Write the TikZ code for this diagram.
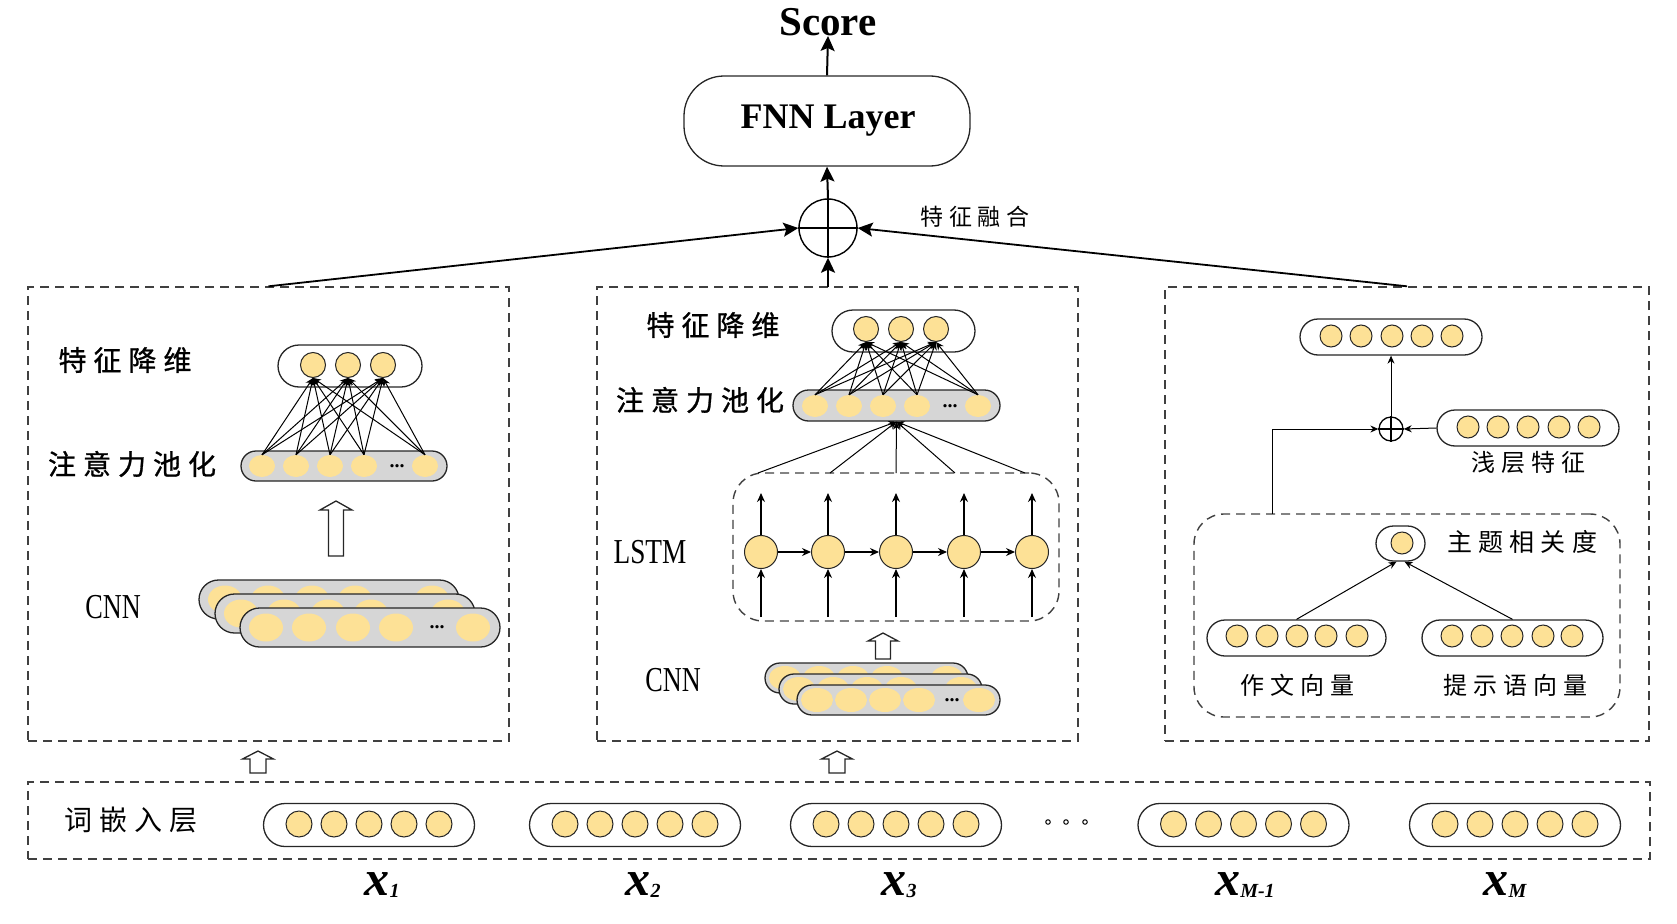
\documentclass[tikz,border=0pt]{standalone}
\usepackage{fontspec}
\setmainfont{Liberation Serif}
\newfontfamily\cjk[LetterSpace=25]{Noto Sans CJK SC}
\newfontfamily\cjkb[LetterSpace=25,FakeBold=1]{Noto Sans CJK SC}
\usetikzlibrary{arrows.meta,shapes.misc,shapes.geometric}
\definecolor{cfill}{HTML}{FDE196}
\definecolor{pgray}{HTML}{D6D6D6}
\definecolor{dgray}{HTML}{404040}
\tikzset{
  box/.style={draw=dgray, line width=1.4pt, dash pattern=on 9pt off 6pt, inner sep=0},
  rbox/.style={box, rounded corners=30pt},
  pill/.style={rounded rectangle, draw=black!85, line width=1.3pt, fill=white, inner sep=0},
  gpill/.style={pill, fill=pgray},
  neu/.style={circle, draw=black!85, line width=1pt, fill=cfill, inner sep=0, minimum size=#1},
  neu/.default=25pt,
  ell/.style={ellipse, fill=cfill, inner sep=0},
  arr/.style={-{Stealth[length=9pt,width=8pt]}, line width=1.2pt},
  sarr/.style={-{Stealth[length=8pt,width=7pt]}, line width=1pt},
  bigarr/.style={-{Stealth[length=15pt,width=14pt,inset=3pt]}, line width=2pt},
  hol/.style={draw=black!85, line width=1.3pt, fill=white, line join=miter},
  lab/.style={inner sep=0},
  cjkbig/.style={lab, font=\cjkb\fontsize{28}{28}\selectfont},
  cjkmid/.style={lab, font=\cjk\fontsize{24}{24}\selectfont},
  dots/.style={lab, font=\bfseries\fontsize{20}{20}\selectfont},
  netlab/.style={lab, font=\fontsize{35}{35}\selectfont},
  xlab/.style={lab, font=\bfseries\itshape\fontsize{50}{50}\selectfont},
}
\newcommand\sublab[1]{\raisebox{-2pt}{\fontsize{20}{20}\selectfont\itshape #1}}
% hollow up arrow: x, tip y, bottom y, head half width, shaft half width, head length
\newcommand\hollowup[6]{%
  \draw[hol] (#1-#5,#3) -- (#1-#5,#2+#6) -- (#1-#4,#2+#6) -- (#1,#2) -- (#1+#4,#2+#6) -- (#1+#5,#2+#6) -- (#1+#5,#3) -- cycle;}
\begin{document}
\begin{tikzpicture}[x=1pt,y=-1pt]
\useasboundingbox (0,0) rectangle (1677,923);

% ---------- top: score, FNN, fusion ----------
\node[lab, font=\bfseries\fontsize{41}{41}\selectfont] (score) at (828,22) {Score};
\node[draw=black!85, line width=1.3pt, rounded corners=40pt, minimum width=286pt, minimum height=90pt, inner sep=0] (fnn) at (827,121) {};
\node[lab, font=\bfseries\fontsize{36}{36}\selectfont] (fnnt) at (828,121) {FNN Layer};
\node[circle, draw=black, line width=1.4pt, minimum size=58pt, inner sep=0] (fuse) at (828,228) {};
\draw[line width=1.4pt] (fuse.west) -- (fuse.east) (fuse.north) -- (fuse.south);
\node[lab, font=\cjk\fontsize{23}{23}\selectfont] (fuset) at (975,217) {特征融合};
\draw[bigarr] (fnn.north) -- (score.south);
\draw[bigarr] (fuse.north) -- (fnn.south);

% ---------- boxes ----------
\node[box, minimum width=481pt, minimum height=454pt] (LB) at (268.5,514) {};
\node[box, minimum width=481pt, minimum height=454pt] (MB) at (837.5,514) {};
\node[box, minimum width=484pt, minimum height=454pt] (RB) at (1407,514) {};
\node[box, minimum width=1622pt, minimum height=77pt] (EB) at (839,820.5) {};
\coordinate (mtop) at (828,287);
\draw[bigarr, line width=1.8pt] (LB.north) -- (fuse.west);
\draw[bigarr, line width=1.8pt] (RB.north) -- (fuse.east);
\draw[bigarr] (mtop) -- (fuse.south);

% ---------- left box ----------
\node[cjkbig] (l1) at (125,360) {特征降维};
\node[cjkbig] (l2) at (132,464) {注意力池化};
\node[netlab] (l3) at (113,607) {\scalebox{0.75}[1]{CNN}};
\node[pill, minimum width=144pt, minimum height=42pt] (LT) at (350,366) {};
\foreach \j/\x in {1/313,2/348,3/383} \node[neu] (LT\j) at (\x,365) {};
\node[gpill, minimum width=206pt, minimum height=30pt] (LA) at (344,466) {};
\foreach \i/\x in {1/262,2/296,3/330,4/364,5/425} \node[ell, minimum width=26pt, minimum height=22pt] (LA\i) at (\x,466) {};
\node[dots] (LAd) at (397,466) {...};
\foreach \i in {1,...,5} \foreach \j in {1,2,3} \draw[sarr] (LA\i.north) -- (LT\j.south);
\hollowup{336}{501}{556}{16}{7.5}{9}
\foreach \k/\px/\py in {1/199/580,2/215/594,3/240/608}{
  \node[gpill, minimum width=260pt, minimum height=39pt] (LC\k) at (\px+130,\py+19.5) {};
  \foreach \i/\dx in {1/26,2/69,3/113,4/156,5/233}
    \node[ell, minimum width=34pt, minimum height=28pt] (LC\k e\i) at (\px+\dx,\py+19.5) {};
  \node[dots] (LC\k d) at (\px+197,\py+19.5) {...};
}

% ---------- middle box ----------
\node[cjkbig] (m1) at (713,325) {特征降维};
\node[cjkbig] (m2) at (700,400) {注意力池化};
\node[netlab] (m3) at (650,552) {\scalebox{0.78}[1]{LSTM}};
\node[netlab] (m4) at (673,680) {\scalebox{0.75}[1]{CNN}};
\node[pill, minimum width=143pt, minimum height=42pt] (MT) at (903.5,331) {};
\foreach \j/\x in {1/866,2/901,3/936} \node[neu] (MT\j) at (\x,329) {};
\node[gpill, minimum width=207pt, minimum height=31pt] (MA) at (896.5,405.5) {};
\foreach \i/\x in {1/815,2/849,3/883,4/917,5/978} \node[ell, minimum width=26pt, minimum height=22pt] (MA\i) at (\x,406) {};
\node[dots] (MAd) at (950,406) {...};
\foreach \i in {1,...,5} \foreach \j in {1,2,3} \draw[sarr] (MA\i.north) -- (MT\j.south);
\node[rbox, minimum width=326pt, minimum height=148pt] (LS) at (896,547) {};
\foreach \i/\x in {1/761,2/828,3/896,4/964,5/1032}{
  \node[neu=33pt] (L\i) at (\x,552) {};
  \coordinate (Lt\i) at (\x,493);
  \coordinate (Lb\i) at (\x,617);
  \draw[arr] (L\i.north) -- (Lt\i);
  \draw[arr] (Lb\i) -- (L\i.south);
}
\foreach \i/\j in {1/2,2/3,3/4,4/5} \draw[arr] (L\i.east) -- (L\j.west);
\foreach \i/\x in {1/758,2/830,3/896,4/955,5/1025}{
  \coordinate (Lc\i) at (\x,473);
  \draw[sarr] (Lc\i) -- (MA.south);
}
\hollowup{883}{633}{659}{15}{7.5}{8}
\foreach \k/\px/\py in {1/765/663,2/779/674,3/797/685}{
  \node[gpill, minimum width=203pt, minimum height=30pt] (MC\k) at (\px+101.5,\py+15) {};
  \foreach \i/\dx in {1/20,2/54,3/88,4/122,5/182}
    \node[ell, minimum width=32pt, minimum height=24pt] (MC\k e\i) at (\px+\dx,\py+15) {};
  \node[dots] (MC\k d) at (\px+155,\py+15) {...};
}

% ---------- right box ----------
\node[pill, minimum width=182pt, minimum height=36pt] (RT) at (1391,337) {};
\foreach \i/\x in {1/1331,2/1361,3/1392,4/1422,5/1452} \node[neu=22pt] (RT\i) at (\x,336) {};
\node[circle, draw=black, line width=1.3pt, minimum size=24pt, inner sep=0] (rplus) at (1391,429) {};
\draw[line width=1.3pt] (rplus.west) -- (rplus.east) (rplus.north) -- (rplus.south);
\draw[sarr] (rplus.north) -- (RT.south);
\node[pill, minimum width=182pt, minimum height=36pt] (RS) at (1528,428) {};
\foreach \i/\x in {1/1468,2/1498,3/1528,4/1559,5/1589} \node[neu=22pt] (RS\i) at (\x,427) {};
\node[cjkmid] (rs) at (1528,462) {浅层特征};
\draw[sarr] (RS.west) -- (rplus.east);
\node[rbox, minimum width=426pt, minimum height=203pt] (IB) at (1407,615.5) {};
\coordinate (ibtop) at (1272,514);
\draw[sarr] (ibtop) |- (rplus.west);
\node[pill, minimum width=49pt, minimum height=35pt] (RR) at (1400.5,543.5) {};
\node[neu=22pt] (RR1) at (1402,543) {};
\node[lab, font=\cjk\fontsize{25}{25}\selectfont] (rrt) at (1522,542) {主题相关度};
\node[pill, minimum width=179pt, minimum height=36pt] (RW) at (1296.5,638) {};
\foreach \i/\x in {1/1237,2/1267,3/1297,4/1326,5/1357} \node[neu=22pt] (RW\i) at (\x,636) {};
\node[pill, minimum width=181pt, minimum height=36pt] (RP) at (1512.5,638) {};
\foreach \i/\x in {1/1452,2/1482,3/1512,4/1543,5/1572} \node[neu=22pt] (RP\i) at (\x,636) {};
\draw[sarr] (RW.north) -- ([xshift=-4pt]RR.south);
\draw[sarr] (RP.north) -- ([xshift=4pt]RR.south);
\node[cjkmid] (rw) at (1297,685) {作文向量};
\node[cjkmid] (rp) at (1515,685) {提示语向量};

% ---------- small hollow arrows ----------
\hollowup{258}{751}{773}{15.5}{8}{8}
\hollowup{837}{751}{773}{15.5}{8}{8}

% ---------- embedding layer ----------
\node[lab, font=\cjk\fontsize{28}{28}\selectfont] (eb) at (131,820) {词嵌入层};
\foreach \k/\c in {1/369,2/635,3/896,4/1243.5,5/1515}{
  \node[pill, minimum width=211pt, minimum height=43pt] (E\k) at (\c,825) {};
  \foreach \i/\dx in {1/-70,2/-35,3/0,4/35,5/70}
    \node[neu=26pt] (E\k c\i) at (\c+\dx,824) {};
}
\foreach \i/\x in {1/1048,2/1066,3/1085} \node[circle, draw, line width=1pt, inner sep=0, minimum size=4.5pt] (ed\i) at (\x,822) {};
\node[xlab] (x1) at (382,885) {x\sublab{1}};
\node[xlab] (x2) at (643,885) {x\sublab{2}};
\node[xlab] (x3) at (899,885) {x\sublab{3}};
\node[xlab] (x4) at (1245,885) {x\sublab{M-1}};
\node[xlab] (x5) at (1505,885) {x\sublab{M}};
\end{tikzpicture}
\end{document}
